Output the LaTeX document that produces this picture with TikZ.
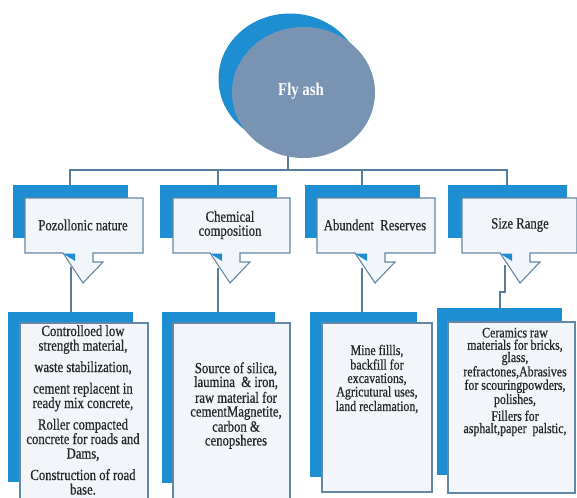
\documentclass[tikz,border=0pt]{standalone}
\usepackage{fontspec}
\setmainfont[FakeStretch=0.82]{Liberation Serif}
\newfontfamily\fatext[FakeStretch=0.82,FakeBold=0.6]{Liberation Serif}
\definecolor{fablue}{RGB}{30,142,210}
\definecolor{fagray}{RGB}{120,148,178}
\definecolor{faline}{RGB}{88,124,156}
\definecolor{faedge}{RGB}{100,135,165}
\definecolor{fafill}{RGB}{242,246,250}
\newcommand\facallout[7]{%
  \fill[fablue] (#2,185) rectangle (#3,238);
  \path[frontbox] (#4,198) -- (#5,198) -- (#5,253) -- ({#6+10},253) -- ({#6+10},262)
     -- ({#6+20},262) -- (#6,283) -- ({#6-20},253) -- (#4,253) -- cycle;
  \fill[fablue] ({#6-20},253.6) -- ({#6-8},253.6) -- ({#6-8},261) -- cycle;
  \node[label] (#1) at (#6,225) {#7};
}
\begin{document}
\begin{tikzpicture}[x=1pt,y=-1pt,
  conn/.style={draw=faline,line width=1.3pt},
  frontbox/.style={fill=fafill,draw=faedge,line width=1.1pt},
  label/.style={font=\fatext\fontsize{15.5}{14}\selectfont,align=center,inner sep=0pt,text=black!85}]
\useasboundingbox (0,0) rectangle (577,497);
% connectors from the root
\coordinate (stem) at (288,140);
\coordinate (hub) at (288,170);
\coordinate (d1) at (70,186);
\coordinate (d2) at (218,186);
\coordinate (d3) at (362,186);
\coordinate (d4) at (507,186);
\draw[conn] (stem) -- (hub);
\draw[conn] (d1) -- (d1|-hub) -- (d4|-hub) -- (d4);
\draw[conn] (d2) -- (d2|-hub);
\draw[conn] (d3) -- (d3|-hub);
% root
\fill[fablue] (290,79) ellipse [x radius=71.5pt, y radius=65.5pt];
\fill[fagray] (303.5,92.5) ellipse [x radius=71.5pt, y radius=65.5pt];
\node[text=white,font=\bfseries\fontsize{18}{20}\selectfont] (fly) at (301,91) {Fly ash};
% top callouts
\facallout{t1}{13}{128}{25}{143}{83}{Pozollonic nature}
\facallout{t2}{160}{277}{173}{290}{230}{Chemical\\composition}
\facallout{t3}{305}{420}{317}{435}{375}{Abundent\ \ Reserves}
\facallout{t4}{448}{567}{462}{577}{520}{Size Range}
% lower connectors
\coordinate (u1) at (71,267);
\coordinate (v1) at (71,312);
\coordinate (u2) at (218,268);
\coordinate (v2) at (218,312);
\coordinate (u3) at (362,268);
\coordinate (v3) at (362,312);
\coordinate (u4) at (505,265);
\coordinate (v4) at (500,308);
\draw[conn] (u1) -- (v1);
\draw[conn] (u2) -- (v2);
\draw[conn] (u3) -- (v3);
\draw[conn] (u4) -- (505,292) -- (500,292) -- (v4);
% bottom boxes
\fill[fablue] (8,312) rectangle (133,482);
\draw[frontbox] (20,323) rectangle (148,512);
\node[label,font=\fatext\fontsize{15.5}{14.5}\selectfont] (b1) at (83,410)
  {Controlloed low\\strength material,\\[7pt]waste stabilization,\\[7pt]cement replacent in\\ready mix concrete,\\[7pt]Roller compacted\\concrete for roads and\\Dams,\\[7pt]Construction of road\\base.};
\fill[fablue] (162,312) rectangle (275,483);
\draw[frontbox] (173,323) rectangle (290,512);
\node[label,font=\fatext\fontsize{15.5}{13.8}\selectfont] (b2) at (236,405.5)
  {Source of silica,\\laumina\ \ \& iron,\\[2pt]raw material for\\cementMagnetite,\\carbon \&\\cenopsheres};
\fill[fablue] (310,312) rectangle (417,477);
\draw[frontbox] (322,323) rectangle (432,492);
\node[label,font=\fatext\fontsize{14.5}{13.5}\selectfont] (b3) at (377,379)
  {Mine fillls,\\[1pt]backfill for\\excavations,\\Agricutural uses,\\[1pt]land reclamation,};
\fill[fablue] (437,308) rectangle (562,475);
\draw[frontbox] (448,322) rectangle (575,493);
\node[label,font=\fatext\fontsize{14.5}{12.3}\selectfont] (b4) at (515,382)
  {Ceramics raw\\materials for bricks,\\glass,\\refractones,Abrasives\\for scouringpowders,\\polishes,\\[2.5pt]Fillers for\\asphalt,paper\ \ palstic,};
\end{tikzpicture}
\end{document}
